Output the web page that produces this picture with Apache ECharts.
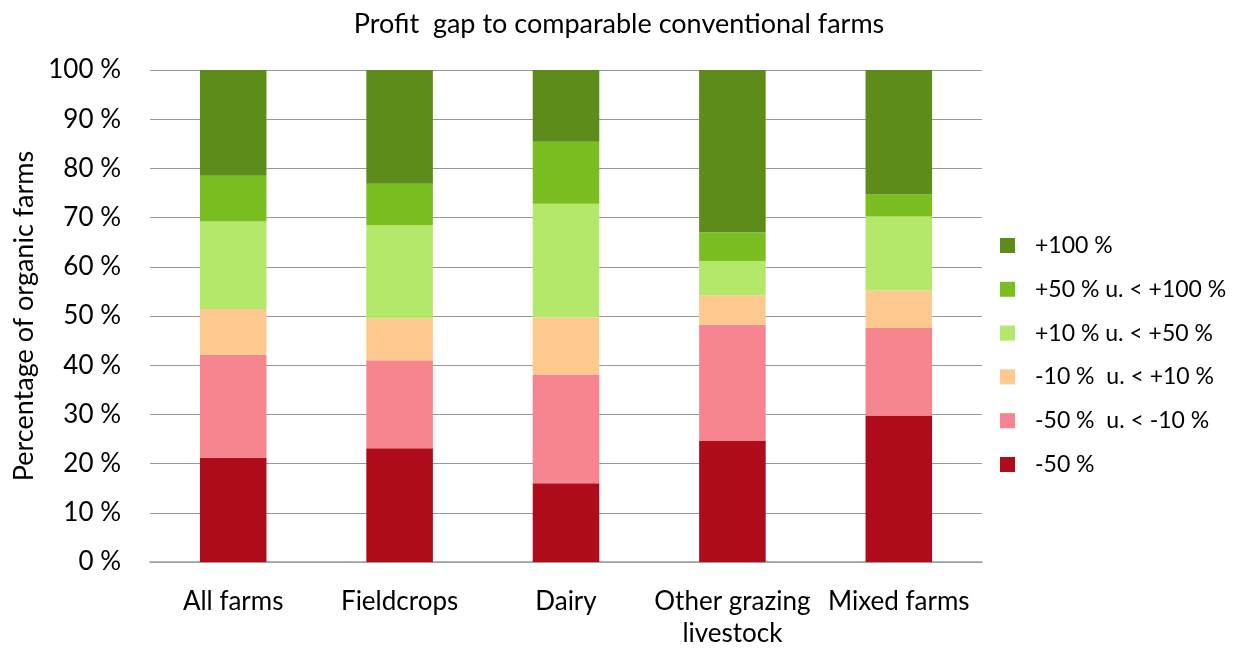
<!DOCTYPE html>
<html>
<head>
<meta charset="utf-8">
<script src="https://cdn.jsdelivr.net/npm/echarts@6/dist/echarts.min.js"></script>
<style>html,body{margin:0;padding:0;background:#fff;}#c{width:1242px;height:650px;}</style>
</head>
<body>
<div id="c"></div>
<script>
const categories = ["All farms", "Fieldcrops", "Dairy", "Other grazing\nlivestock", "Mixed farms"];
const seriesNames = ["-50 %", "-50 %  u. < -10 %", "-10 %  u. < +10 %", "+10 % u. < +50 %", "+50 % u. < +100 %", "+100 %"];
const below50 = [21.2, 23.1, 16.0, 24.6, 29.8];
const minus50to10 = [20.9, 17.9, 22.1, 23.6, 17.8];
const minus10to10 = [9.3, 8.5, 11.6, 6.0, 7.6];
const plus10to50 = [17.8, 19.0, 23.1, 7.0, 15.0];
const plus50to100 = [9.3, 8.4, 12.6, 5.8, 4.5];
const plus100 = [21.5, 23.1, 14.6, 33.0, 25.3];
const yTicks = [0, 10, 20, 30, 40, 50, 60, 70, 80, 90, 100];
const colors = ["#AE0B1B", "#F7858F", "#FEC98E", "#B3E86B", "#7ABE21", "#5E8C1A"];
const values = [below50, minus50to10, minus10to10, plus10to50, plus50to100, plus100];

const FONT = "Lato, 'Open Sans', sans-serif";
const chart = echarts.init(document.getElementById('c'));
chart.setOption({
  animation: false,
  backgroundColor: '#fff',
  title: {
    text: 'Profit  gap to comparable conventional farms',
    left: 614, textAlign: 'center', top: 6,
    textStyle: { fontFamily: FONT, fontSize: 27, fontWeight: 'normal', color: '#000' }
  },
  legend: {
    orient: 'vertical', left: 995, top: 229,
    itemWidth: 15, itemHeight: 15, itemGap: 20.8,
    icon: 'rect',
    data: seriesNames.slice().reverse(),
    textStyle: { fontFamily: FONT, fontSize: 23, color: '#000', padding: [0, 0, 0, 15] }
  },
  grid: { left: 150, right: 260, top: 70, bottom: 86, containLabel: false },
  xAxis: {
    type: 'category', data: categories,
    axisLine: { show: true, lineStyle: { color: '#a0a0a0', width: 1.5 } },
    axisTick: { show: false },
    axisLabel: { fontFamily: FONT, fontSize: 26, color: '#000', margin: 24, lineHeight: 32, interval: 0 }
  },
  yAxis: {
    type: 'value', min: 0, max: 100, interval: 10,
    name: 'Percentage of organic farms', nameLocation: 'middle', nameGap: 111, nameRotate: 90,
    nameTextStyle: { fontFamily: FONT, fontSize: 27, color: '#000' },
    axisLine: { show: false }, axisTick: { show: false },
    axisLabel: { fontFamily: FONT, fontSize: 26, color: '#000', margin: 29,
      formatter: v => yTicks.includes(v) ? v + ' %' : '' },
    splitLine: { lineStyle: { color: '#999', width: 1.2 } }
  },
  series: seriesNames.map((n, i) => ({
    name: n, type: 'bar', stack: 'total', barWidth: '40%',
    itemStyle: { color: colors[i] },
    data: values[i]
  }))
});
</script>
</body>
</html>
